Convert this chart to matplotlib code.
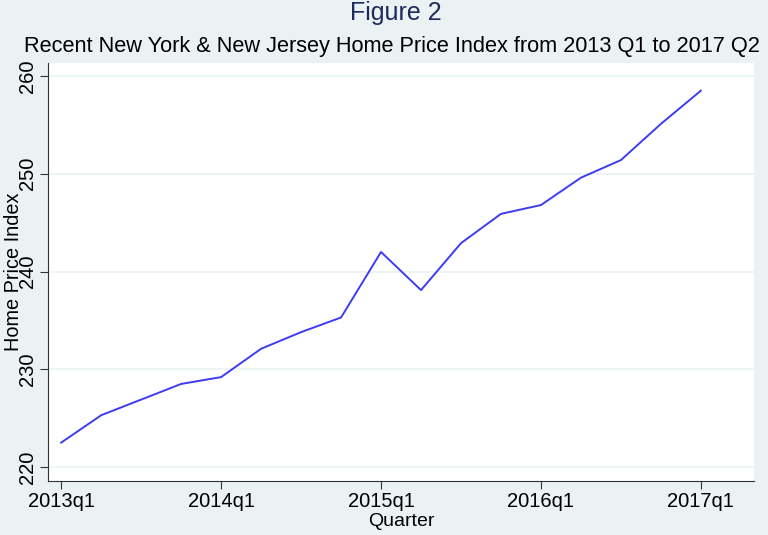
import matplotlib
matplotlib.use("Agg")
import matplotlib.pyplot as plt

plt.rcParams['font.family'] = ['Liberation Sans', 'DejaVu Sans']

# quarters 2013q1 .. 2017q1 (index 0 = 2013q1)
quarters = list(range(17))
hpi = [222.5, 225.3, 226.9, 228.5, 229.2, 232.1, 233.8, 235.3, 242.0,
       238.1, 242.9, 245.9, 246.8, 249.6, 251.4, 255.1, 258.5]

tick_pos = [0, 4, 8, 12, 16]
tick_labels = ["2013q1", "2014q1", "2015q1", "2016q1", "2017q1"]
y_ticks = [220, 230, 240, 250, 260]

bg = "#eaf2f3"
fig = plt.figure(figsize=(7.68, 5.35), dpi=100, facecolor=bg)
ax = fig.add_axes([0.0625, 0.1009, 0.9193, 0.7813])
ax.set_facecolor("white")

ax.plot(quarters, hpi, color="#3c3cf5", lw=1.4)

ax.set_xlim(-0.33, 17.33)
ax.set_ylim(218.57, 261.33)
ax.set_xticks(tick_pos)
ax.set_xticklabels(tick_labels, fontsize=14.5)
ax.set_yticks(y_ticks)
ax.set_yticklabels([str(v) for v in y_ticks], fontsize=14.5, rotation=90, va="center")
ax.tick_params(direction="out", length=6, width=0.8, color="#333333", pad=2)
ax.grid(axis="y", color=bg, lw=1.2)
ax.set_axisbelow(True)

for s in ["top", "right"]:
    ax.spines[s].set_visible(False)
for s in ["left", "bottom"]:
    ax.spines[s].set_color("#333333")
    ax.spines[s].set_linewidth(0.8)

ax.set_xlabel("Quarter", fontsize=14, labelpad=1)
# the reference lets the axis title sit over the tick labels
ax.set_ylabel("Home Price Index", fontsize=14.3, labelpad=-4)

fig.text(0.515, 0.975, "Figure 2", fontsize=18, color="#1e2b5e", ha="center", va="center")
fig.text(0.031, 0.913, "Recent New York & New Jersey Home Price Index from 2013 Q1 to 2017 Q2",
         fontsize=15.7, ha="left", va="center")

fig.savefig("out.png", dpi=100, facecolor=bg)
